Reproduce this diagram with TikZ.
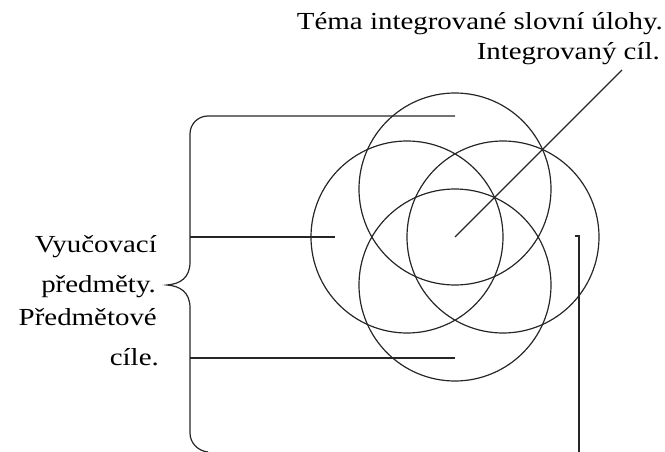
\documentclass[tikz,border=0pt]{standalone}
\usepackage{fontspec}
\setmainfont{Liberation Serif}[FakeStretch=1.18]
\begin{document}
\begin{tikzpicture}[x=1pt,y=-1pt,
  lbl/.style={inner sep=0pt,anchor=base east,font=\fontsize{24.5}{30}\selectfont},
  ring/.style={draw=black!85,line width=1.2pt},
  ln/.style={draw=black!85,line width=1.2pt}]
\useasboundingbox (0,0) rectangle (665,452);
\clip (0,0) rectangle (665,452);
% circles
\node[ring,circle,minimum size=192pt,inner sep=0pt] (ct) at (455,189) {};
\node[ring,circle,minimum size=192pt,inner sep=0pt] (cl) at (407,237) {};
\node[ring,circle,minimum size=192pt,inner sep=0pt] (cr) at (503,237) {};
\node[ring,circle,minimum size=192pt,inner sep=0pt] (cb) at (455,285) {};
% pointer coordinates
\coordinate (c) at (455,237);
\coordinate (pt) at (455,116);
\coordinate (pl) at (335,237);
\coordinate (pb) at (455,358);
\coordinate (bl) at (190,237);
\coordinate (bb) at (190,358);
\coordinate (dg) at (622,70);
\coordinate (rt) at (575,236);
\coordinate (rc) at (579,236);
\coordinate (rb) at (579,460);
% texts
\node[lbl] (t1) at (663,30) {Téma integrované slovní úlohy.};
\node[lbl] (t2) at (660,60) {Integrovaný cíl.};
\node[lbl] (l1) at (157,252) {Vyučovací};
\node[lbl] (l2) at (156,292) {předměty.};
\node[lbl] (l3) at (157,325) {Předmětové};
\node[lbl] (l4) at (159,365) {cíle.};
% brace
\draw[ln] (pt) -- (208,116) .. controls (198,116) and (190,124) .. (190,134)
  -- (190,262) .. controls (190,278) and (180,284) .. (167,285)
  .. controls (180,286) and (190,292) .. (190,308)
  -- (190,433) .. controls (190,443) and (198,451) .. (208,452);
\draw[ln] (bl) -- (pl);
\draw[ln] (bb) -- (pb);
% diagonal
\draw[ln] (c) -- (dg);
% right line
\draw[ln] (rt) -- (rc) -- (rb);
\end{tikzpicture}
\end{document}
